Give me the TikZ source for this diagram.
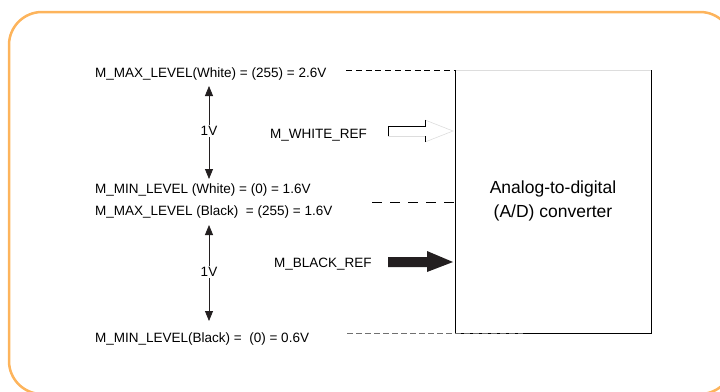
\documentclass[tikz,border=0pt]{standalone}
\usepackage{fontspec}
\setmainfont{Liberation Sans}
\usetikzlibrary{arrows.meta}
\definecolor{frameorange}{HTML}{FDB45C}
\definecolor{arrowblack}{HTML}{231F20}
\definecolor{lightedge}{HTML}{DDDDDD}
\definecolor{dashgray}{HTML}{707070}
\begin{document}
\begin{tikzpicture}[x=1pt,y=-1pt,
  lbl/.style={anchor=base west,inner sep=0pt,font=\fontsize{13.5}{16}\selectfont},
  vlbl/.style={anchor=center,inner sep=1pt,font=\fontsize{13.5}{16}\selectfont},
  meas/.style={-{Triangle[length=10pt,width=8pt]},line width=0.8pt,arrowblack},
  boxtxt/.style={anchor=base,inner sep=0pt,font=\fontsize{17.5}{21}\selectfont}]
\useasboundingbox (0,0) rectangle (720,391);
\begin{scope}
\clip (0,0) rectangle (720,391);
\draw[frameorange,line width=2.5pt,rounded corners=33pt] (9,12) rectangle (733,394);
\end{scope}
% converter box
\coordinate (bTL) at (455,70);
\coordinate (bTR) at (651,70);
\coordinate (bBL) at (455,333);
\coordinate (bBR) at (651,333);
\draw[lightedge,line width=0.6pt] (bTL) -- (bTR);
\draw[black,line width=0.8pt] (bTR) -- (bBR) -- (bBL) -- (bTL);
\node[boxtxt] (adc1) at (553,193) {Analog-to-digital};
\node[boxtxt] (adc2) at (553,217) {(A/D) converter};
% level labels
\node[lbl] (maxw) at (95,77) {M\_MAX\_LEVEL(White) = (255) = 2.6V};
\node[lbl] (minw) at (95,193) {M\_MIN\_LEVEL (White) = (0) = 1.6V};
\node[lbl] (maxb) at (95,215) {M\_MAX\_LEVEL (Black)\ \ = (255) = 1.6V};
\node[lbl] (minb) at (95,342) {M\_MIN\_LEVEL(Black) =\ \ (0) = 0.6V};
% dashed level lines
\coordinate (d1a) at (346,70);
\coordinate (d2a) at (372,202);
\coordinate (d2b) at (455,202);
\coordinate (d3a) at (347,333);
\coordinate (d3b) at (523,333);
\draw[black,line width=0.8pt,dash pattern=on 6pt off 3.8pt] (d1a) -- (bTL);
\draw[black,line width=0.8pt,dash pattern=on 10pt off 8pt] (d2a) -- (d2b);
\draw[dashgray,line width=0.8pt,dash pattern=on 6pt off 3pt] (d3a) -- (d3b);
% 1V measures
\node[vlbl] (v1) at (209,131) {1V};
\node[vlbl] (v2) at (209,272) {1V};
\coordinate (t1) at (209,86);
\coordinate (b1) at (209,179);
\coordinate (t2) at (209,225);
\coordinate (b2) at (209,321);
\draw[meas] (v1.north) -- (t1);
\draw[meas] (v1.south) -- (b1);
\draw[meas] (v2.north) -- (t2);
\draw[meas] (v2.south) -- (b2);
% white ref
\node[lbl] (wref) at (270,138) {M\_WHITE\_REF};
\draw[lightedge,line width=0.6pt] (388,136) -- (425,136);
\draw[lightedge,line width=0.6pt] (425,120) -- (453,131) -- (425,142);
\draw[black,line width=0.8pt] (388,136) -- (388,126) -- (425,126) -- (425,120);
\draw[black,line width=0.8pt] (425,136) -- (425,142);
% black ref
\node[lbl] (bref) at (274,267) {M\_BLACK\_REF};
\fill[arrowblack] (388,257) -- (427,257) -- (427,251) -- (453,262) -- (427,272) -- (427,267) -- (388,267) -- cycle;
\end{tikzpicture}
\end{document}
